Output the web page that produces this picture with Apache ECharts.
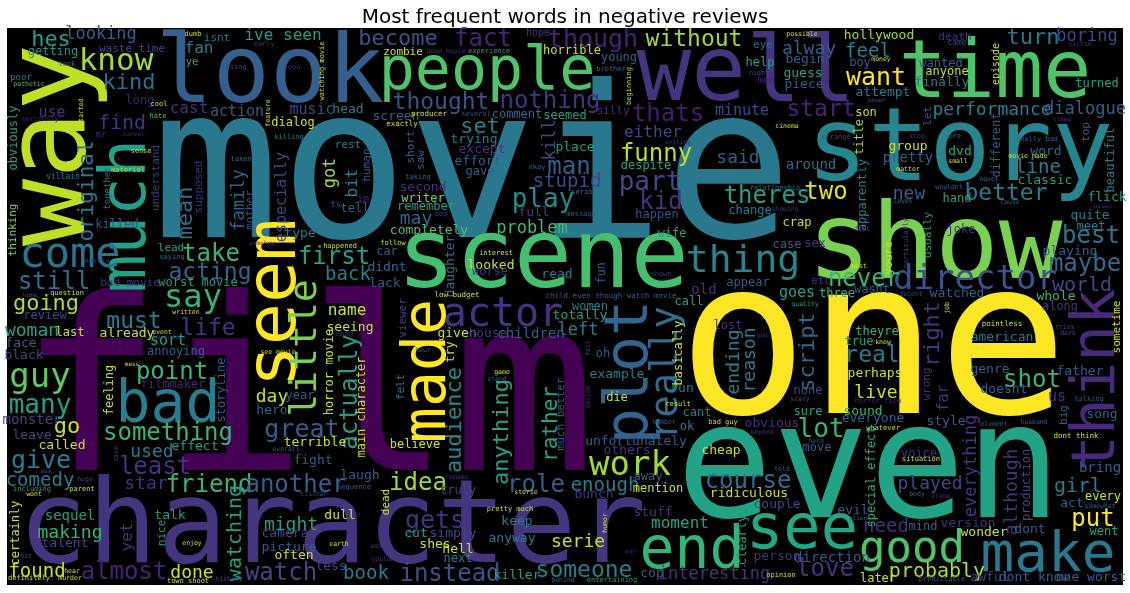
<!DOCTYPE html>
<html>
<head>
<meta charset="utf-8">
<title>Most frequent words in negative reviews</title>
<script src="https://cdn.jsdelivr.net/npm/echarts@6/dist/echarts.min.js"></script>
<style>
  html, body { margin: 0; padding: 0; background: #fff; }
  #chart { width: 1130px; height: 593px; }
</style>
</head>
<body>
<div id="chart"></div>
<script>
// 词云数据：[词, x, y, 字号, 是否竖排, 颜色值(0~1, viridis)]
// x / y 为词云平面上的坐标（经隐藏的数值轴映射）
const bigWords = [
  ['film', 307, 408, 240, 0, 0.0],
  ['movie', 472, 182, 213, 0, 0.4],
  ['one', 873, 357, 216, 0, 1.0],
  ['even', 869, 475, 160, 0, 0.58],
  ['character', 332, 532, 116, 0, 0.15],
  ['story', 960, 153, 102, 0, 0.45],
  ['show', 935, 250, 106, 0, 0.8],
  ['time', 995, 76, 80, 0, 0.72],
  ['well', 746, 76, 91, 0, 0.15],
  ['scene', 543, 262, 97, 0, 0.7],
  ['way', 55, 145, 112, 1, 0.9],
  ['look', 270, 77, 95, 0, 0.3],
  ['people', 487, 73, 60, 0, 0.72],
  ['much', 128, 216, 64, 1, 0.57],
  ['seem', 277, 303, 70, 1, 1.0],
  ['bad', 168, 407, 58, 0, 0.42],
  ['made', 429, 371, 60, 1, 1.0],
  ['plot', 631, 372, 60, 1, 0.32],
  ['think', 1098, 380, 61, 1, 0.12],
  ['see', 802, 532, 62, 0, 0.6],
  ['make', 1048, 556, 56, 0, 0.4],
  ['end', 692, 553, 58, 0, 0.65],
  ['good', 912, 551, 44, 0, 0.72],
  ['come', 70, 256, 42, 0, 0.38],
  ['actor', 503, 316, 40, 0, 0.15],
  ['thing', 743, 262, 38, 0, 0.45],
  ['little', 306, 348, 38, 1, 0.8],
  ['really', 667, 373, 37, 1, 0.35],
  ['work', 630, 466, 34, 0, 0.86],
  ['director', 975, 280, 34, 0, 0.25],
  ['guy', 40, 378, 34, 0, 0.75],
  ['know', 116, 62, 31, 0, 0.86],
  ['say', 193, 299, 32, 0, 0.65]
];

const midWords = [
  ['become', 398, 39, 22, 0, 0.25], ['fact', 483, 40, 24, 0, 0.1],
  ['though', 593, 40, 25, 0, 0.1], ['without', 694, 40, 23, 0, 0.86],
  ['hes', 51, 40, 22, 0, 0.57], ['ive seen', 283, 36, 16, 0, 0.57],
  ['looking', 101, 35, 17, 0, 0.3], ['kind', 129, 83, 22, 0, 0.35],
  ['fan', 199, 49, 16, 0, 0.42], ['find', 122, 124, 20, 0, 0.15],
  ['cast', 189, 109, 16, 0, 0.15], ['action', 237, 112, 15, 0, 0.28],
  ['music', 312, 110, 15, 0, 0.22], ['thought', 441, 103, 23, 0, 0.25],
  ['nothing', 550, 102, 24, 0, 0.15], ['thats', 668, 115, 24, 0, 0.08],
  ['minute', 742, 111, 15, 0, 0.22], ['start', 821, 110, 23, 0, 0.1],
  ['performance', 992, 110, 18, 0, 0.42], ['dialogue', 1085, 110, 17, 0, 0.3],
  ['want', 876, 78, 25, 0, 1.0], ['feel', 868, 52, 19, 0, 0.42],
  ['alway', 809, 49, 18, 0, 0.3], ['turn', 1033, 38, 22, 0, 0.4],
  ['boring', 1087, 37, 17, 0, 0.22], ['set', 480, 127, 22, 0, 0.42],
  ['funny', 656, 155, 24, 0, 0.9], ['either', 653, 133, 16, 0, 0.22],
  ['man', 569, 168, 24, 0, 0.3], ['stupid', 567, 182, 19, 0, 0.22],
  ['part', 650, 183, 26, 0, 0.22], ['kid', 661, 203, 24, 0, 0.15],
  ['play', 543, 200, 26, 0, 0.48], ['problem', 532, 229, 17, 0, 0.68],
  ['said', 738, 158, 18, 0, 0.3], ['theres', 767, 197, 24, 0, 0.57],
  ['two', 826, 193, 24, 0, 0.95], ['new', 909, 194, 18, 0, 0.3],
  ['better', 1006, 194, 23, 0, 0.42], ['line', 1038, 168, 19, 0, 0.42],
  ['best', 1091, 237, 24, 0, 0.4], ['maybe', 1085, 265, 24, 0, 0.35],
  ['never', 864, 280, 24, 0, 0.66], ['world', 1082, 286, 20, 0, 0.22],
  ['goes', 797, 293, 15, 0, 0.57], ['original', 88, 191, 21, 1, 0.4],
  ['mean', 186, 213, 22, 1, 0.35], ['family', 240, 200, 17, 1, 0.33],
  ['especially', 282, 197, 15, 1, 0.22], ['got', 331, 173, 17, 1, 0.86],
  ['bit', 353, 183, 16, 1, 0.42], ['kill', 551, 140, 17, 1, 0.22],
  ['take', 211, 255, 24, 0, 0.66], ['first', 334, 258, 24, 0, 0.57],
  ['acting', 210, 273, 23, 0, 0.32], ['still', 54, 283, 24, 0, 0.36],
  ['back', 348, 275, 19, 0, 0.42], ['going', 46, 304, 22, 0, 0.88],
  ['obviously', 14, 138, 12, 1, 0.57], ['thinking', 13, 230, 11, 1, 0.8],
  ['must', 134, 322, 23, 0, 0.42], ['life', 208, 329, 23, 0, 0.15],
  ['woman', 32, 331, 18, 0, 0.57], ['point', 172, 373, 24, 0, 0.66],
  ['many', 40, 406, 26, 0, 0.57], ['go', 67, 427, 22, 0, 0.92],
  ['something', 168, 434, 24, 0, 0.66], ['great', 302, 430, 25, 0, 0.3],
  ['actually', 351, 392, 24, 1, 0.55], ['give', 41, 461, 25, 0, 0.42],
  ['used', 152, 452, 18, 0, 0.42], ['least', 155, 468, 24, 0, 0.15],
  ['comedy', 40, 481, 19, 0, 0.42], ['star', 146, 484, 18, 0, 0.15],
  ['friend', 209, 486, 24, 0, 0.66], ['another', 296, 486, 24, 0, 0.3],
  ['watching', 236, 533, 20, 1, 0.57], ['might', 291, 525, 18, 0, 0.57],
  ['making', 70, 533, 18, 0, 0.65], ['yet', 128, 537, 16, 1, 0.15],
  ['found', 37, 572, 19, 0, 0.92], ['almost', 124, 573, 24, 0, 0.1],
  ['done', 192, 573, 18, 0, 0.92], ['watch', 281, 574, 24, 0, 0.22],
  ['book', 366, 574, 19, 0, 0.42], ['audience', 455, 420, 22, 1, 0.45],
  ['anything', 502, 432, 22, 1, 0.58], ['rather', 552, 424, 21, 1, 0.58],
  ['idea', 418, 484, 24, 0, 0.86], ['role', 536, 486, 24, 0, 0.3],
  ['enough', 605, 486, 19, 0, 0.42], ['gets', 435, 521, 25, 0, 0.15],
  ['instead', 450, 575, 24, 0, 0.25], ['someone', 584, 571, 23, 0, 0.42],
  ['interesting', 714, 575, 17, 0, 0.15], ['moment', 680, 524, 16, 0, 0.57],
  ['course', 748, 482, 24, 0, 0.35], ['ending', 734, 362, 18, 1, 0.42],
  ['reason', 750, 360, 18, 1, 0.42], ['script', 808, 352, 22, 1, 0.32],
  ['real', 872, 356, 23, 0, 0.42], ['right', 933, 334, 22, 1, 0.15],
  ['shot', 1032, 381, 24, 0, 0.66], ['lot', 821, 430, 26, 0, 0.66],
  ['live', 876, 393, 18, 0, 0.92], ['everything', 972, 466, 17, 1, 0.15],
  ['although', 1012, 492, 18, 1, 0.15], ['played', 930, 484, 18, 0, 0.22],
  ['girl', 1078, 487, 20, 0, 0.42], ['put', 1093, 520, 24, 0, 1.0],
  ['need', 886, 527, 19, 0, 0.15], ['love', 825, 570, 24, 0, 0.15],
  ['probably', 937, 572, 20, 0, 0.88], ['serie', 578, 542, 18, 0, 0.92],
  ['left', 578, 331, 17, 0, 0.42], ['far', 944, 398, 15, 1, 0.15],
  ['us', 1057, 397, 15, 0, 0.15], ['may', 416, 219, 18, 0, 0.33],
  ['use', 52, 113, 15, 0, 0.15], ['day', 272, 397, 18, 0, 0.92],
  ['name', 347, 311, 16, 0, 0.92], ['special effect', 872, 477, 12, 1, 0.62],
  ['sort', 168, 341, 15, 0, 0.57]
];

const smallWords = [
  ['getting', 53, 52, 12, 0, 0.5], ['waste time', 132, 49, 11, 0, 0.22],
  ['poor', 21, 78, 9, 0, 0.42], ['isnt', 217, 38, 11, 0, 0.42],
  ['ye', 192, 62, 11, 0, 0.57], ['long', 140, 101, 12, 0, 0.1],
  ['head', 348, 110, 13, 0, 0.42], ['dialog', 293, 123, 12, 0, 0.92],
  ['rest', 348, 145, 11, 0, 0.42], ['mr', 101, 135, 9, 0, 0.1],
  ['understand', 156, 178, 11, 1, 0.18], ['villain', 63, 177, 8, 0, 0.42],
  ['together', 108, 188, 9, 1, 0.38], ['supposed', 199, 187, 11, 1, 0.15],
  ['mother', 250, 210, 11, 1, 0.25], ['human', 367, 165, 11, 1, 0.25],
  ['im', 363, 199, 10, 0, 0.1], ['tv', 336, 205, 9, 0, 0.22],
  ['tell', 355, 209, 12, 0, 0.3], ['killed', 117, 225, 12, 0, 0.25],
  ['type', 300, 234, 13, 0, 0.42], ['lead', 171, 248, 11, 0, 0.57],
  ['bad movie', 130, 283, 11, 0, 0.15], ['worst movie', 198, 283, 12, 0, 0.57],
  ['zombie', 403, 52, 11, 0, 0.92], ['horrible', 572, 51, 12, 0, 0.92],
  ['young', 619, 58, 12, 0, 0.3], ['hope', 538, 33, 10, 0, 0.15],
  ['screen', 396, 117, 13, 0, 0.3], ['comment', 517, 115, 12, 0, 0.35],
  ['seemed', 565, 116, 12, 0, 0.57], ['silly', 613, 111, 11, 0, 0.15],
  ['trying', 474, 140, 13, 0, 0.42], ['short', 411, 147, 11, 1, 0.3],
  ['saw', 421, 160, 11, 1, 0.3], ['except', 482, 150, 13, 0, 0.15],
  ['place', 575, 148, 13, 0, 0.57], ['effort', 478, 162, 13, 0, 0.3],
  ['gave', 480, 172, 12, 0, 0.3], ['despite', 646, 166, 12, 0, 0.57],
  ['second', 423, 188, 13, 0, 0.15], ['writer', 423, 199, 12, 0, 0.8],
  ['remember', 426, 207, 12, 0, 0.57], ['full', 534, 213, 13, 0, 0.22],
  ['happen', 657, 215, 12, 0, 0.25], ['completely', 429, 231, 13, 0, 0.72],
  ['wife', 672, 234, 12, 0, 0.57], ['change', 750, 211, 12, 0, 0.42],
  ['appear', 748, 283, 12, 0, 0.3], ['old', 704, 290, 14, 0, 0.15],
  ['call', 689, 302, 12, 0, 0.57], ['looked', 491, 266, 13, 0, 0.92],
  ['worse', 490, 272, 12, 0, 0.15], ['daughter', 451, 266, 13, 1, 0.35],
  ['car', 387, 252, 12, 0, 0.3], ['didnt', 387, 268, 13, 0, 0.35],
  ['lack', 385, 284, 13, 0, 0.3], ['read', 557, 275, 13, 0, 0.42],
  ['fun', 602, 273, 12, 1, 0.3], ['men', 766, 81, 9, 0, 0.1],
  ['eye', 763, 45, 11, 0, 0.35], ['help', 760, 63, 12, 0, 0.57],
  ['begin', 805, 60, 13, 0, 0.3], ['guess', 803, 74, 13, 0, 0.57],
  ['piece', 804, 85, 13, 0, 0.3], ['hollywood', 879, 36, 13, 0, 0.86],
  ['boy', 860, 63, 12, 0, 0.3], ['death', 955, 37, 11, 0, 0.15],
  ['wanted', 941, 64, 12, 0, 0.3], ['anyone', 947, 72, 12, 0, 0.92],
  ['finally', 942, 83, 13, 0, 0.42], ['episode', 996, 64, 10, 1, 0.92],
  ['turned', 1097, 84, 12, 0, 0.57], ['attempt', 883, 93, 13, 0, 0.42],
  ['son', 866, 113, 12, 0, 0.92], ['let', 928, 116, 11, 1, 0.3],
  ['different', 997, 145, 12, 1, 0.3], ['top', 1086, 132, 11, 1, 0.3],
  ['beautiful', 1111, 160, 12, 1, 0.42], ['title', 860, 137, 12, 1, 0.86],
  ['group', 908, 147, 13, 0, 0.92], ['dvd', 960, 152, 13, 0, 0.6],
  ['pretty', 908, 158, 14, 0, 0.3], ['word', 1046, 152, 13, 0, 0.35],
  ['around', 811, 165, 14, 0, 0.35], ['apparently', 863, 195, 12, 1, 0.42],
  ['classic', 1045, 181, 13, 0, 0.57], ['flick', 1107, 198, 13, 0, 0.57],
  ['hand', 957, 199, 12, 0, 0.57], ['crap', 797, 223, 12, 0, 0.92],
  ['usually', 928, 235, 11, 1, 0.57], ['joke', 961, 230, 12, 0, 0.15],
  ['quite', 1090, 216, 13, 0, 0.42], ['meet', 1091, 227, 12, 0, 0.42],
  ['case', 787, 245, 12, 0, 0.3], ['sex', 815, 244, 12, 0, 0.15],
  ['youre', 889, 258, 11, 1, 0.92], ['playing', 1070, 252, 13, 0, 0.3],
  ['etc', 821, 281, 11, 0, 0.15], ['three', 837, 294, 12, 0, 0.66],
  ['wasnt', 872, 290, 12, 0, 0.3], ['watched', 957, 294, 13, 0, 0.3],
  ['whole', 1056, 297, 13, 0, 0.66], ['along', 1060, 307, 12, 0, 0.15],
  ['sometime', 1117, 327, 11, 1, 0.92], ['theyre', 877, 332, 12, 0, 0.66],
  ['true', 859, 342, 12, 0, 0.57], ['american', 1002, 338, 13, 0, 0.42],
  ['genre', 990, 370, 13, 0, 0.3], ['father', 1080, 372, 13, 0, 0.3],
  ['perhaps', 875, 374, 13, 0, 0.92], ['doesnt', 1004, 390, 13, 0, 0.3],
  ['none', 808, 391, 12, 0, 0.22], ['wrong', 927, 384, 11, 1, 0.15],
  ['sure', 808, 412, 12, 0, 0.57], ['sound', 863, 412, 13, 0, 0.66],
  ['big', 1064, 415, 11, 1, 0.3], ['song', 1102, 415, 13, 0, 0.3],
  ['everyone', 873, 419, 13, 0, 0.3], ['style', 946, 422, 13, 0, 0.3],
  ['obvious', 772, 424, 13, 0, 0.15], ['move', 817, 448, 12, 0, 0.3],
  ['voice', 919, 454, 12, 0, 0.15], ['production', 1027, 485, 12, 1, 0.22],
  ['bring', 1100, 468, 14, 0, 0.3], ['every', 1103, 497, 12, 0, 0.92],
  ['couple', 777, 505, 13, 0, 0.22], ['act', 1072, 504, 13, 0, 0.3],
  ['evil', 853, 511, 13, 0, 0.3], ['mind', 923, 527, 12, 0, 0.3],
  ['version', 968, 524, 13, 0, 0.15], ['wonder', 984, 533, 13, 0, 0.92],
  ['dont', 1030, 530, 13, 0, 0.3], ['went', 1104, 532, 12, 0, 0.57],
  ['person', 777, 557, 13, 0, 0.15], ['direction', 832, 558, 14, 0, 0.3],
  ['later', 878, 579, 12, 0, 0.92], ['awful', 990, 578, 13, 0, 0.22],
  ['dont know', 1034, 578, 13, 0, 0.3], ['one worst', 1091, 578, 13, 0, 0.3],
  ['lost', 728, 326, 12, 0, 0.15], ['basically', 679, 353, 12, 1, 0.92],
  ['run', 682, 389, 13, 0, 0.42], ['cant', 697, 413, 12, 0, 0.42],
  ['ok', 687, 427, 12, 0, 0.42], ['cheap', 721, 451, 13, 0, 0.92],
  ['ridiculous', 749, 494, 13, 0, 0.92], ['clearly', 743, 540, 12, 1, 0.57],
  ['cop', 652, 574, 13, 0, 0.3], ['women', 590, 307, 12, 0, 0.42],
  ['totally', 580, 316, 13, 0, 0.57], ['viewer', 403, 318, 11, 1, 0.22],
  ['given', 457, 334, 13, 0, 0.92], ['house', 488, 334, 13, 0, 0.15],
  ['children', 531, 334, 14, 0, 0.3], ['try', 451, 352, 12, 1, 0.92],
  ['oh', 603, 354, 12, 0, 0.3], ['much better', 561, 414, 11, 1, 0.3],
  ['felt', 401, 387, 11, 1, 0.42], ['example', 617, 375, 13, 0, 0.42],
  ['die', 617, 398, 12, 0, 0.92], ['believe', 415, 445, 12, 0, 0.92],
  ['unfortunately', 636, 442, 13, 0, 0.3], ['others', 627, 451, 13, 0, 0.15],
  ['away', 648, 477, 12, 0, 0.3], ['truly', 458, 491, 12, 0, 0.22],
  ['bunch', 594, 495, 13, 0, 0.15], ['mention', 658, 489, 12, 0, 0.92],
  ['dead', 386, 502, 11, 1, 0.92], ['keep', 517, 522, 13, 0, 0.42],
  ['stuff', 653, 513, 13, 0, 0.15], ['cut', 416, 534, 13, 0, 0.57],
  ['simply', 453, 534, 13, 0, 0.22], ['anyway', 512, 539, 13, 0, 0.42],
  ['shes', 435, 545, 13, 0, 0.92], ['hell', 458, 550, 13, 0, 0.92],
  ['next', 458, 559, 12, 0, 0.42], ['killer', 517, 576, 13, 0, 0.57],
  ['review', 45, 316, 12, 0, 0.22], ['last', 70, 333, 12, 0, 0.92],
  ['already', 127, 334, 13, 0, 0.92], ['seeing', 350, 328, 13, 0, 0.92],
  ['face', 21, 344, 13, 0, 0.3], ['black', 24, 356, 13, 0, 0.22],
  ['annoying', 176, 352, 12, 0, 0.3], ['feeling', 110, 390, 12, 1, 0.92],
  ['filmmaker', 173, 385, 12, 0, 0.1], ['storyline', 222, 390, 12, 1, 0.3],
  ['year', 300, 396, 12, 0, 0.3], ['hero', 272, 411, 13, 0, 0.3],
  ['horror movie', 330, 372, 12, 1, 0.92], ['main character', 362, 407, 12, 1, 0.92],
  ['monster', 32, 420, 14, 0, 0.22], ['leave', 32, 436, 13, 0, 0.22],
  ['terrible', 315, 443, 13, 0, 0.92], ['called', 62, 446, 13, 0, 0.92],
  ['effect', 195, 447, 13, 0, 0.57], ['fight', 313, 461, 13, 0, 0.3],
  ['laugh', 360, 476, 13, 0, 0.3], ['certainly', 16, 533, 12, 1, 0.92],
  ['sequel', 70, 516, 14, 0, 0.57], ['talk', 170, 516, 13, 0, 0.57],
  ['dull', 340, 516, 13, 0, 0.92], ['nice', 162, 533, 11, 1, 0.57],
  ['camera', 285, 534, 13, 0, 0.22], ['talent', 65, 544, 13, 0, 0.22],
  ['picture', 289, 548, 13, 0, 0.3], ['often', 294, 556, 13, 0, 0.92],
  ['less', 331, 567, 13, 0, 0.22]
];

const tinyWords = [
  ['took', 67, 64, 7, 0, 0.35], ['pathetic', 29, 84, 6.5, 0, 0.72],
  ['dumb', 193, 34, 7, 0, 0.92], ['early', 264, 44, 7, 0, 0.15],
  ['using', 236, 67, 7, 0, 0.22], ['soon', 292, 67, 7, 0, 0.1],
  ['watching movie', 322, 71, 7, 1, 0.92], ['cool', 159, 104, 7, 0, 0.92],
  ['seriously', 40, 119, 7, 0, 0.1], ['started', 81, 112, 6.5, 1, 0.92],
  ['hate', 158, 116, 7, 0, 0.72], ['feature', 268, 113, 6.5, 1, 0.92],
  ['killing', 289, 137, 7, 0, 0.42], ['career', 134, 134, 6, 0, 0.1],
  ['sense', 141, 151, 7, 0, 0.92], ['material', 128, 170, 7, 0, 0.86],
  ['taken', 241, 159, 7, 0, 0.35], ['somehow', 262, 243, 6, 0, 0.15],
  ['saying', 172, 257, 7, 0, 0.35], ['happened', 340, 246, 7, 0, 0.92],
  ['mostly', 97, 261, 7, 0, 0.15], ['home', 30, 295, 6, 0, 0.22],
  ['question', 67, 293, 7, 0, 0.92], ['good movie', 446, 51, 6.5, 0, 0.15],
  ['experience', 489, 51, 7, 0, 0.57], ['brother', 611, 69, 7, 0, 0.35],
  ['beginning', 629, 86, 7, 1, 0.92], ['producer', 429, 114, 7.5, 0, 0.92],
  ['several', 476, 114, 7, 0, 0.22], ['exactly', 402, 124, 7.5, 0, 0.92],
  ['writing', 678, 142, 6, 0, 0.15], ['okay', 537, 167, 7, 0, 0.3],
  ['taking', 418, 177, 7, 0, 0.35], ['dog', 441, 214, 7, 0, 0.15],
  ['message', 581, 214, 7, 0, 0.3], ['serious', 586, 192, 7, 0, 0.42],
  ['interest', 496, 253, 7, 0, 0.92], ['follow', 393, 243, 7, 0, 0.92],
  ['shown', 661, 274, 7, 0, 0.15], ['low budget', 457, 295, 7.5, 0, 0.92],
  ['child even though watch movie', 611, 296, 7.5, 0, 0.3],
  ['possible', 802, 34, 6.5, 0, 0.92], ['night', 759, 73, 6.5, 0, 0.22],
  ['money', 881, 59, 6.5, 0, 0.92], ['came', 957, 43, 8, 0, 0.22],
  ['victim', 1080, 44, 6.5, 0, 0.15], ['power', 877, 100, 6, 0, 0.22],
  ['cinema', 787, 126, 6.5, 0, 0.92], ['liked', 1062, 119, 6, 0, 0.1],
  ['strange', 836, 137, 7, 0, 0.22], ['stop', 917, 136, 6.5, 0, 0.15],
  ['gore', 953, 136, 6.5, 0, 0.42], ['really bad', 1037, 139, 7, 0, 0.3],
  ['movie made', 1028, 156, 6.5, 0, 0.92], ['small', 958, 161, 6.5, 0, 0.92],
  ['matter', 908, 169, 6.5, 0, 0.92], ['wouldnt', 949, 187, 6.5, 0, 0.3],
  ['novel', 989, 179, 6.5, 0, 0.35], ['relationship', 775, 188, 7, 0, 0.35],
  ['level', 903, 201, 6.5, 0, 0.42], ['cause', 1010, 202, 6.5, 0, 0.3],
  ['usual', 1103, 206, 6, 0, 0.15], ['showing', 785, 209, 6.5, 0, 0.15],
  ['fall', 862, 229, 6.5, 0, 0.22], ['particularly', 906, 243, 7, 1, 0.22],
  ['past', 859, 266, 6.5, 0, 0.92], ['decent', 911, 294, 6.5, 0, 0.22],
  ['quality', 805, 304, 6.5, 0, 0.57], ['job', 947, 308, 6.5, 1, 0.92],
  ['pointless', 1002, 324, 7.5, 0, 0.92], ['tries', 1065, 327, 6.5, 0, 0.22],
  ['dark', 1068, 333, 6.5, 0, 0.22], ['knew', 883, 342, 6.5, 0, 0.92],
  ['god', 762, 335, 6, 0, 0.15], ['scary', 800, 399, 6.5, 0, 0.22],
  ['horror film', 878, 401, 7, 0, 0.1], ['talking', 1089, 399, 7, 0, 0.3],
  ['beyond', 762, 432, 6.5, 0, 0.15], ['element', 994, 424, 6.5, 0, 0.3],
  ['husband', 1034, 422, 6.5, 0, 0.3], ['whatever', 883, 428, 7, 0, 0.92],
  ['dont think', 1076, 436, 7.5, 0, 0.92], ['hard', 816, 441, 6.5, 0, 0.22],
  ['situation', 921, 459, 7, 0, 0.92], ['told', 782, 469, 6.5, 0, 0.3],
  ['body', 917, 494, 6.5, 0, 0.3], ['drama', 941, 496, 6.5, 0, 0.1],
  ['somewhat', 1100, 506, 6.5, 0, 0.3], ['alien', 858, 518, 6, 0, 0.3],
  ['opinion', 781, 575, 7, 0, 0.92], ['predictable', 942, 579, 7, 0, 0.3],
  ['result', 678, 404, 7, 0, 0.92], ['bad guy', 723, 422, 7, 0, 0.92],
  ['number', 664, 422, 6.5, 0, 0.3], ['hour', 423, 350, 6.5, 0, 0.3],
  ['fail', 588, 348, 6.5, 1, 0.22], ['game', 502, 372, 6.5, 0, 0.92],
  ['stand', 497, 379, 6.5, 0, 0.3], ['decide', 588, 397, 6.5, 1, 0.15],
  ['remake', 457, 477, 6.5, 0, 0.15], ['storie', 526, 492, 6.5, 0, 0.92],
  ['pretty much', 510, 509, 7, 0, 0.92], ['humor', 605, 523, 6.5, 1, 0.92],
  ['war', 631, 551, 6.5, 0, 0.1], ['behind', 563, 580, 6.5, 0, 0.3],
  ['entertaining', 612, 580, 7, 0, 0.57], ['written', 186, 312, 6.5, 0, 0.92],
  ['event', 162, 332, 6.5, 0, 0.92], ['im sure', 166, 337, 6.5, 0, 0.15],
  ['order', 345, 334, 6.5, 0, 0.15], ['mess', 132, 364, 6, 0, 0.92],
  ['see movie', 278, 352, 6.5, 0, 0.92], ['overall', 286, 449, 6.5, 0, 0.3],
  ['save', 116, 454, 6.5, 1, 0.22], ['ask', 46, 471, 6.5, 0, 0.22],
  ['huge', 85, 479, 6.5, 0, 0.22], ['including', 32, 489, 7, 0, 0.57],
  ['parent', 82, 489, 7, 0, 0.92], ['wont', 34, 494, 6.5, 0, 0.92],
  ['clichã©', 314, 494, 6.5, 0, 0.22], ['sequence', 354, 487, 7, 0, 0.3],
  ['enjoy', 192, 543, 6.5, 0, 0.92], ['earth', 339, 544, 6.5, 0, 0.92],
  ['hit', 26, 556, 6.5, 0, 0.22], ['hear', 72, 571, 6.5, 0, 0.92],
  ['definitely', 29, 578, 7, 0, 0.92], ['murder', 70, 578, 6.5, 0, 0.92],
  ['town shoot', 188, 581, 7, 0, 0.92], ['history', 229, 579, 6.5, 0, 0.22],
  ['add', 376, 546, 6.5, 0, 0.15], ['couldnt', 385, 559, 6.5, 0, 0.15]
];

// viridis 色带
const viridis = ['#440154', '#482475', '#414487', '#355f8d', '#2a788e',
  '#21918c', '#22a884', '#44bf70', '#7ad151', '#bddf26', '#fde725'];

const chart = echarts.init(document.getElementById('chart'));

const allWords = [].concat(bigWords, midWords, smallWords, tinyWords);
const data = allWords.map(r => ({
  name: r[0],
  value: [r[1], r[2], r[5]],
  label: { fontSize: r[3], rotate: r[4] ? 90 : 0 }
}));

chart.setOption({
  animation: false,
  backgroundColor: '#fff',
  title: {
    text: 'Most frequent words in negative reviews',
    left: 'center',
    top: 3,
    textStyle: { fontFamily: 'DejaVu Sans', fontSize: 20, fontWeight: 'normal', color: '#000' }
  },
  grid: {
    left: 7, top: 28, width: 1116, height: 557,
    show: true, backgroundColor: '#000', borderWidth: 0
  },
  xAxis: { type: 'value', min: 7, max: 1123, show: false },
  yAxis: { type: 'value', min: 28, max: 585, inverse: true, show: false },
  visualMap: {
    show: false,
    type: 'continuous',
    dimension: 2,
    min: 0,
    max: 1,
    inRange: { color: viridis }
  },
  series: [{
    type: 'scatter',
    silent: true,
    symbolSize: 0,
    clip: false,
    itemStyle: { opacity: 1 },
    data: data,
    label: {
      show: true,
      position: 'inside',
      formatter: '{b}',
      color: 'inherit',
      textBorderWidth: 0,
      opacity: 1,
      fontFamily: 'DejaVu Sans Mono',
      align: 'center',
      verticalAlign: 'middle'
    },
    labelLayout: { hideOverlap: false }
  }]
});
</script>
</body>
</html>
